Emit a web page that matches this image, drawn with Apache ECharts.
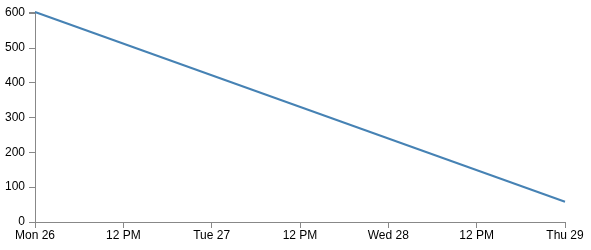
<!DOCTYPE html>
<html><head><meta charset="utf-8">
<script src="https://cdn.jsdelivr.net/npm/echarts@6/dist/echarts.min.js"></script>
<style>html,body{margin:0;padding:0;background:#fff}#c{width:591px;height:250px}</style>
</head><body><div id="c"></div>
<script>
// hours since Mon 26 00:00
const hours = [0, 72];
const values = [603, 58];
const xTickLabels = ['Mon 26', '12 PM', 'Tue 27', '12 PM', 'Wed 28', '12 PM', 'Thu 29'];
const yTicks = [0, 100, 200, 300, 400, 500, 600];

const chart = echarts.init(document.getElementById('c'), null, {renderer: 'canvas'});
const axisColor = '#888';
const font = {fontFamily: 'Liberation Sans, Arial, sans-serif', fontSize: 12, color: '#000'};
chart.setOption({
  animation: false,
  grid: {left: 35, right: 26, top: 12, bottom: 28, containLabel: false},
  xAxis: {
    type: 'value', min: 0, max: 72, interval: 12,
    axisLine: {show: true, lineStyle: {color: axisColor, width: 1}},
    axisTick: {show: true, length: 6, lineStyle: {color: axisColor}},
    splitLine: {show: false},
    axisLabel: Object.assign({margin: 8, showMinLabel: true, showMaxLabel: true,
      formatter: v => xTickLabels[Math.round(v / 12)] || ''}, font)
  },
  yAxis: {
    type: 'value', min: 0, max: 603, interval: 100,
    axisLine: {show: true, lineStyle: {color: axisColor, width: 1}},
    axisTick: {show: true, length: 6, lineStyle: {color: axisColor}},
    splitLine: {show: false},
    axisLabel: Object.assign({margin: 10,
      formatter: v => yTicks.includes(v) ? String(v) : ''}, font)
  },
  series: [{
    type: 'line', data: hours.map((h, i) => [h, values[i]]),
    symbol: 'none', lineStyle: {color: '#4682b4', width: 2}
  }]
});
</script></body></html>
